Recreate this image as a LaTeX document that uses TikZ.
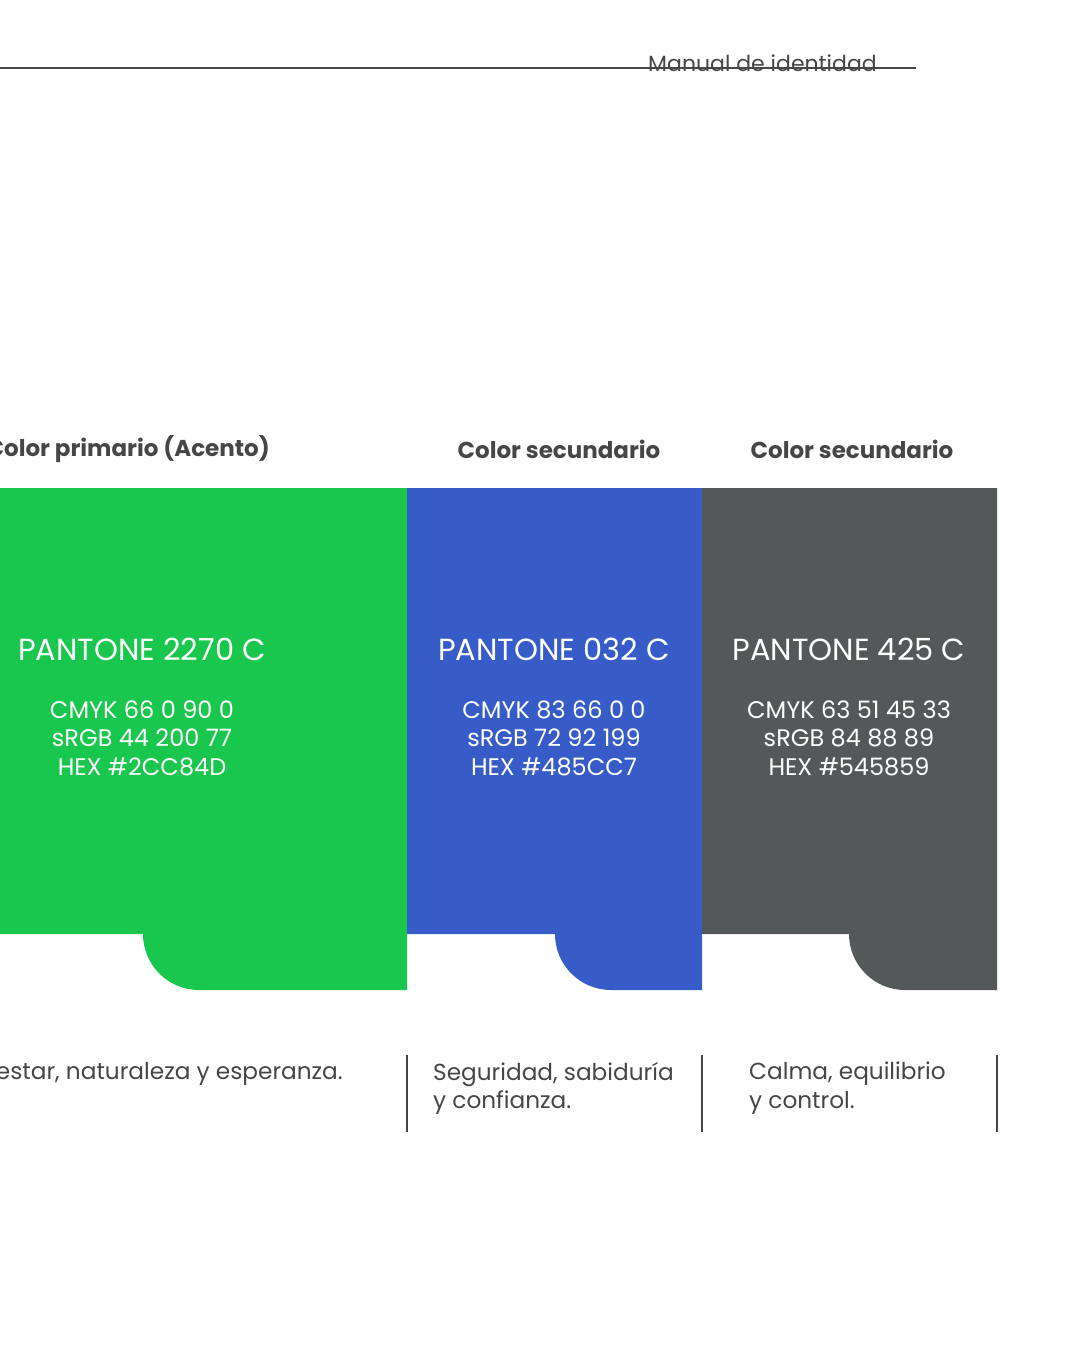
\documentclass[tikz,border=0pt]{standalone}
\usepackage{fontspec}
\setmainfont{Poppins}
\usetikzlibrary{positioning}
\definecolor{verde}{HTML}{19C64E}
\definecolor{azul}{HTML}{385CC7}
\definecolor{gris}{HTML}{545859}
\definecolor{texto}{HTML}{464646}
\tikzset{
  titulo/.style={font=\fontsize{23}{28}\selectfont\bfseries, text=texto, inner sep=0pt},
  pantone/.style={font=\fontsize{30.5}{36}\selectfont, text=white, inner sep=0pt},
  datos/.style={font=\fontsize{24}{28.5}\selectfont, text=white, align=center, inner sep=0pt},
  descr/.style={font=\fontsize{23.2}{28.5}\selectfont, text=texto, align=left, inner sep=0pt},
  barra/.style={draw=texto, line width=2pt}
}
\begin{document}
\begin{tikzpicture}[x=1pt,y=1pt,yscale=-1]
\useasboundingbox (0,0) rectangle (1080,1350);

% cabecera
\draw [texto, line width=2pt] (0,68) -- (916,68);
\node (manual) [font=\fontsize{22}{26}\selectfont, text=texto, anchor=base west, inner sep=0pt] at (648,71) {Manual de identidad};

% muestras de color
\fill [verde] (0,488) -- (407,488) -- (407,990) -- (199,990) arc (90:180:56) -- (143,934) -- (0,934) -- cycle;
\fill [azul] (407,488) -- (702,488) -- (702,990) -- (611,990) arc (90:180:56) -- (555,934) -- (407,934) -- cycle;
\fill [gris] (702,488) -- (997,488) -- (997,990) -- (905,990) arc (90:180:56) -- (849,934) -- (702,934) -- cycle;

% titulos
\node (tverde) [titulo, anchor=east] at (270,449) {Color primario (Acento)};
\node (tazul) [titulo] at (559,449) {Color secundario};
\node (tgris) [titulo] at (852,449) {Color secundario};

% pantone
\node (pverde) [pantone] at (142,649) {PANTONE 2270 C};
\node (pazul) [pantone] at (554,649) {PANTONE 032 C};
\node (pgris) [pantone] at (849,649) {PANTONE 425 C};

\node (dverde) [datos, below=40pt of pverde] {CMYK 66 0 90 0\\sRGB 44 200 77\\HEX \#2CC84D};
\node (dazul) [datos, below=40pt of pazul] {CMYK 83 66 0 0\\sRGB 72 92 199\\HEX \#485CC7};
\node (dgris) [datos, below=40pt of pgris] {CMYK 63 51 45 33\\sRGB 84 88 89\\HEX \#545859};

% descripciones
\node (everde) [descr, anchor=north east] at (343,1062) {Bienestar, naturaleza y esperanza.};
\node (eazul) [descr, anchor=north west] at (433,1062) {Seguridad, sabiduría\\y confianza.};
\node (egris) [descr, anchor=north west] at (749,1062) {Calma, equilibrio\\y control.};

\coordinate (b1a) at (407,1055); \coordinate (b1b) at (407,1132);
\coordinate (b2a) at (702,1055); \coordinate (b2b) at (702,1132);
\coordinate (b3a) at (997,1055); \coordinate (b3b) at (997,1132);
\draw [barra] (b1a) -- (b1b);
\draw [barra] (b2a) -- (b2b);
\draw [barra] (b3a) -- (b3b);

\end{tikzpicture}
\end{document}
